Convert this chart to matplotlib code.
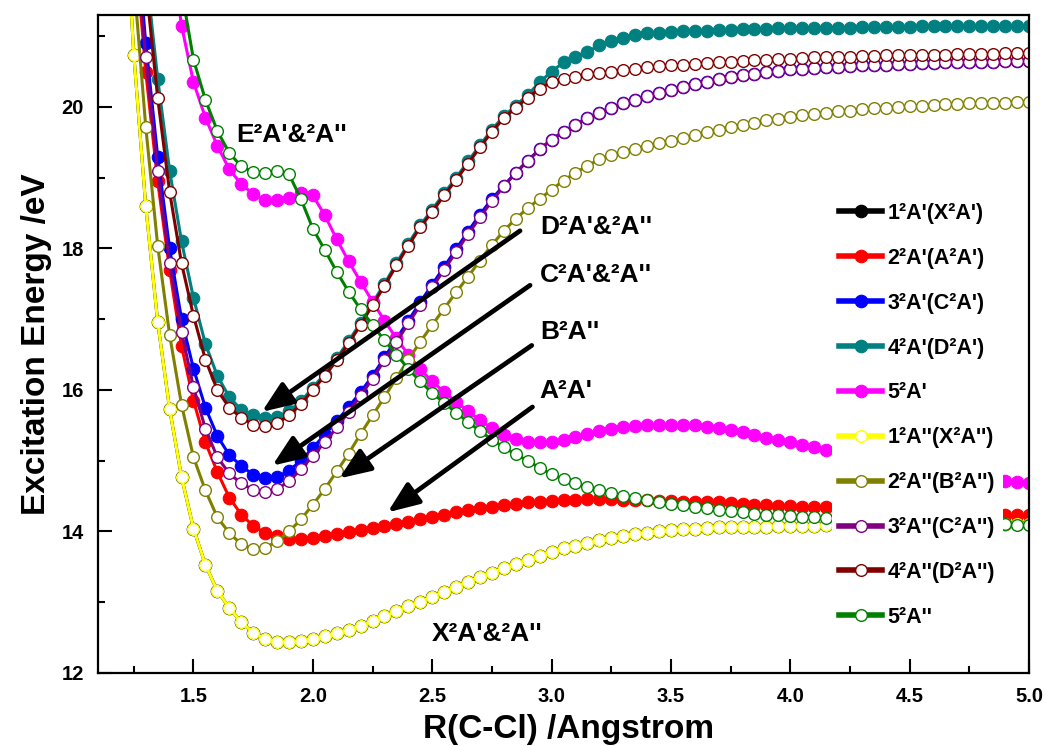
import matplotlib
matplotlib.use('Agg')
import matplotlib.pyplot as plt
from matplotlib.ticker import MultipleLocator

plt.rcParams['font.family'] = ['Liberation Sans', 'DejaVu Sans']
plt.rcParams['font.weight'] = 'bold'

# bond length grid (Angstrom)
r_cc = [1.20, 1.25, 1.30, 1.35, 1.40, 1.45, 1.50, 1.55, 1.60, 1.65,
        1.70, 1.75, 1.80, 1.85, 1.90, 1.95, 2.00, 2.05, 2.10, 2.15,
        2.20, 2.25, 2.30, 2.35, 2.40, 2.45, 2.50, 2.55, 2.60, 2.65,
        2.70, 2.75, 2.80, 2.85, 2.90, 2.95, 3.00, 3.05, 3.10, 3.15,
        3.20, 3.25, 3.30, 3.35, 3.40, 3.45, 3.50, 3.55, 3.60, 3.65,
        3.70, 3.75, 3.80, 3.85, 3.90, 3.95, 4.00, 4.05, 4.10, 4.15,
        4.20, 4.25, 4.30, 4.35, 4.40, 4.45, 4.50, 4.55, 4.60, 4.65,
        4.70, 4.75, 4.80, 4.85, 4.90, 4.95, 5.00]

# X state (1 2A' and 1 2A'' are degenerate)
e_x = [23.6, 20.74, 18.6, 16.96, 15.73, 14.77, 14.04, 13.53, 13.16, 12.92,
       12.72, 12.57, 12.48, 12.44, 12.44, 12.45, 12.48, 12.52, 12.56, 12.61,
       12.67, 12.73, 12.80, 12.87, 12.94, 13.01, 13.08, 13.15, 13.22, 13.29,
       13.36, 13.42, 13.48, 13.54, 13.60, 13.66, 13.71, 13.76, 13.80, 13.84,
       13.88, 13.91, 13.94, 13.96, 13.98, 14.00, 14.02, 14.03, 14.04, 14.05,
       14.06, 14.06, 14.07, 14.07, 14.07, 14.08, 14.08, 14.08, 14.08, 14.09,
       14.09, 14.09, 14.09, 14.09, 14.10, 14.10, 14.10, 14.10, 14.10, 14.10,
       14.10, 14.10, 14.10, 14.10, 14.10, 14.10, 14.10]

e_2a1 = [25.0, 22.5, 20.5, 18.95, 17.7, 16.62, 15.85, 15.26, 14.84, 14.48,
         14.24, 14.08, 13.98, 13.93, 13.90, 13.90, 13.91, 13.93, 13.96, 13.99,
         14.02, 14.05, 14.08, 14.11, 14.14, 14.17, 14.20, 14.24, 14.27, 14.30,
         14.33, 14.35, 14.37, 14.39, 14.41, 14.42, 14.43, 14.44, 14.45, 14.46,
         14.46, 14.46, 14.45, 14.45, 14.44, 14.43, 14.43, 14.42, 14.42, 14.41,
         14.41, 14.40, 14.39, 14.38, 14.37, 14.36, 14.36, 14.35, 14.34, 14.34,
         14.33, 14.32, 14.31, 14.30, 14.30, 14.29, 14.28, 14.28, 14.27, 14.27,
         14.26, 14.26, 14.25, 14.25, 14.24, 14.24, 14.24]

e_3a1 = [25.5, 22.9, 20.9, 19.3, 18.0, 17.0, 16.3, 15.75, 15.35, 15.08,
         14.93, 14.80, 14.75, 14.77, 14.86, 15.00, 15.18, 15.37, 15.56, 15.76,
         15.97, 16.20, 16.46, 16.72, 16.98, 17.24, 17.49, 17.74, 17.99, 18.24,
         18.48, 18.70, 18.89, 19.07, 19.24, 19.40, 19.54, 19.65, 19.75, 19.84,
         19.92, 19.99, 20.05, 20.10, 20.15, 20.20, 20.24, 20.28, 20.32, 20.36,
         20.39, 20.42, 20.45, 20.47, 20.49, 20.51, 20.53, 20.54, 20.55, 20.56,
         20.57, 20.58, 20.59, 20.60, 20.60, 20.61, 20.61, 20.62, 20.62, 20.63,
         20.63, 20.64, 20.64, 20.64, 20.65, 20.65, 20.65]

e_4a1 = [26.6, 24.1, 21.95, 20.4, 19.1, 18.1, 17.3, 16.65, 16.2, 15.9,
         15.72, 15.64, 15.60, 15.62, 15.70, 15.84, 16.03, 16.23, 16.45, 16.69,
         16.95, 17.23, 17.50, 17.79, 18.07, 18.33, 18.55, 18.78, 19.00, 19.23,
         19.46, 19.68, 19.87, 20.02, 20.17, 20.35, 20.50, 20.63, 20.71, 20.78,
         20.87, 20.93, 20.98, 21.02, 21.04, 21.05, 21.06, 21.07, 21.08, 21.08,
         21.09, 21.09, 21.10, 21.10, 21.10, 21.11, 21.11, 21.11, 21.12, 21.12,
         21.12, 21.12, 21.13, 21.13, 21.13, 21.13, 21.13, 21.14, 21.14, 21.14,
         21.14, 21.14, 21.14, 21.14, 21.14, 21.14, 21.14]

e_5a1 = [28.0, 26.5, 25.0, 23.7, 22.35, 21.15, 20.35, 19.85, 19.45, 19.12,
         18.91, 18.77, 18.69, 18.68, 18.71, 18.78, 18.75, 18.47, 18.13, 17.82,
         17.53, 17.25, 16.98, 16.73, 16.50, 16.29, 16.12, 15.97, 15.83, 15.70,
         15.57, 15.46, 15.37, 15.31, 15.27, 15.26, 15.27, 15.30, 15.34, 15.38,
         15.42, 15.45, 15.47, 15.49, 15.50, 15.51, 15.51, 15.51, 15.50, 15.48,
         15.46, 15.43, 15.40, 15.36, 15.32, 15.29, 15.26, 15.22, 15.19, 15.15,
         15.12, 15.09, 15.06, 15.03, 15.00, 14.97, 14.94, 14.91, 14.88, 14.86,
         14.83, 14.80, 14.77, 14.75, 14.72, 14.70, 14.68]

e_2a2 = [24.3, 21.8, 19.72, 18.04, 16.78, 15.79, 15.05, 14.58, 14.20, 13.98,
         13.82, 13.75, 13.77, 13.86, 14.00, 14.17, 14.38, 14.60, 14.85, 15.10,
         15.38, 15.64, 15.90, 16.17, 16.43, 16.68, 16.92, 17.15, 17.38, 17.60,
         17.83, 18.05, 18.25, 18.42, 18.57, 18.70, 18.83, 18.96, 19.07, 19.17,
         19.26, 19.32, 19.37, 19.41, 19.45, 19.49, 19.52, 19.56, 19.60, 19.64,
         19.68, 19.72, 19.75, 19.78, 19.81, 19.83, 19.86, 19.88, 19.90, 19.92,
         19.94, 19.95, 19.97, 19.98, 19.99, 20.00, 20.01, 20.02, 20.03, 20.04,
         20.04, 20.05, 20.05, 20.06, 20.06, 20.07, 20.07]

e_3a2 = [25.2, 22.6, 20.7, 19.09, 17.79, 16.82, 16.04, 15.45, 15.05, 14.82,
         14.68, 14.59, 14.56, 14.60, 14.71, 14.88, 15.07, 15.26, 15.47, 15.69,
         15.92, 16.16, 16.42, 16.68, 16.94, 17.20, 17.45, 17.70, 17.95, 18.20,
         18.44, 18.67, 18.88, 19.07, 19.24, 19.40, 19.54, 19.65, 19.75, 19.84,
         19.92, 19.99, 20.05, 20.10, 20.15, 20.20, 20.24, 20.28, 20.32, 20.36,
         20.39, 20.42, 20.45, 20.47, 20.49, 20.51, 20.53, 20.54, 20.55, 20.56,
         20.57, 20.58, 20.59, 20.60, 20.60, 20.61, 20.61, 20.62, 20.62, 20.63,
         20.63, 20.64, 20.64, 20.64, 20.65, 20.65, 20.65]

e_4a2 = [26.3, 23.8, 21.75, 20.13, 18.8, 17.79, 17.05, 16.43, 16.00, 15.75,
         15.61, 15.51, 15.49, 15.53, 15.64, 15.80, 16.00, 16.20, 16.42, 16.66,
         16.92, 17.20, 17.47, 17.76, 18.04, 18.30, 18.52, 18.75, 18.97, 19.20,
         19.43, 19.65, 19.84, 19.99, 20.13, 20.26, 20.35, 20.40, 20.43, 20.46,
         20.48, 20.50, 20.52, 20.54, 20.56, 20.58, 20.59, 20.60, 20.61, 20.62,
         20.63, 20.64, 20.65, 20.66, 20.67, 20.68, 20.68, 20.69, 20.70, 20.70,
         20.71, 20.71, 20.72, 20.72, 20.73, 20.73, 20.73, 20.74, 20.74, 20.74,
         20.75, 20.75, 20.75, 20.75, 20.76, 20.76, 20.76]

e_5a2 = [28.5, 27.0, 25.5, 24.1, 22.8, 21.65, 20.67, 20.10, 19.66, 19.35,
         19.16, 19.08, 19.07, 19.10, 19.05, 18.70, 18.28, 17.98, 17.67, 17.39,
         17.14, 16.92, 16.70, 16.50, 16.30, 16.12, 15.96, 15.82, 15.68, 15.55,
         15.42, 15.30, 15.19, 15.09, 15.00, 14.90, 14.81, 14.74, 14.68, 14.63,
         14.58, 14.54, 14.50, 14.47, 14.44, 14.41, 14.39, 14.37, 14.35, 14.33,
         14.31, 14.29, 14.27, 14.25, 14.24, 14.23, 14.22, 14.21, 14.20, 14.19,
         14.18, 14.17, 14.16, 14.16, 14.15, 14.14, 14.14, 14.13, 14.13, 14.12,
         14.12, 14.11, 14.11, 14.10, 14.10, 14.09, 14.09]

labels = ["1²A'(X²A')", "2²A'(A²A')", "3²A'(C²A')", "4²A'(D²A')", "5²A'",
          "1²A''(X²A'')", "2²A''(B²A'')", "3²A''(C²A'')", "4²A''(D²A'')", "5²A''"]
series = [e_x, e_2a1, e_3a1, e_4a1, e_5a1, e_x, e_2a2, e_3a2, e_4a2, e_5a2]
colors = ['#000000', '#FF0000', '#0000FF', '#008080', '#FF00FF',
          '#FFFF00', '#808000', '#800080', '#800000', '#008000']
filled = [True] * 5 + [False] * 5

# state labels: (text, R, E)
state_text = [("E²A'&²A''", 1.678, 19.60), ("D²A'&²A''", 2.952, 18.31),
              ("C²A'&²A''", 2.950, 17.62), ("B²A''", 2.952, 16.82),
              ("A²A'", 2.950, 15.99), ("X²A'&²A''", 2.497, 12.55)]
# arrows: (tail R, tail E, tip R, tip E)
arrows = [(2.868, 18.25, 1.786, 15.69), (2.910, 17.48, 1.830, 14.93),
          (2.917, 16.63, 2.110, 14.75), (2.920, 15.76, 2.313, 14.27)]

fig = plt.figure(figsize=(10.46, 7.46), dpi=100)
ax = fig.add_axes([98 / 1046, 73 / 746, 931 / 1046, 658 / 746])

for y, c, lab, f in zip(series, colors, labels, filled):
    if f:
        ax.plot(r_cc, y, '-o', color=c, lw=2.2, ms=9.0, mfc=c, mec=c,
                mew=0.8, label=lab)
    else:
        ax.plot(r_cc, y, '-o', color=c, lw=2.2, ms=8.4, mfc='white', mec=c,
                mew=1.0, label=lab)

for txt, r, e in state_text:
    ax.text(r, e, txt, fontsize=19, fontweight='bold', ha='left', va='center')

for r0, e0, r1, e1 in arrows:
    ax.annotate('', xy=(r1, e1), xytext=(r0, e0),
                arrowprops=dict(arrowstyle='-|>,head_length=0.5,head_width=0.2',
                                lw=3.4, color='black', mutation_scale=38,
                                shrinkA=0, shrinkB=0))

ax.set_xlim(1.1, 5.0)
ax.set_ylim(12, 21.3)
ax.xaxis.set_major_locator(MultipleLocator(0.5))
ax.xaxis.set_minor_locator(MultipleLocator(0.25))
ax.yaxis.set_major_locator(MultipleLocator(2))
ax.yaxis.set_minor_locator(MultipleLocator(1))
ax.tick_params(which='major', direction='in', length=10, width=1.5,
               labelsize=14.5, pad=10, top=False, right=False)
ax.tick_params(which='minor', direction='in', length=5, width=1.5,
               top=False, right=False)
for lab in ax.get_xticklabels() + ax.get_yticklabels():
    lab.set_fontweight('bold')
for sp in ax.spines.values():
    sp.set_linewidth(1.6)

ax.set_xlabel('R(C-Cl) /Angstrom', fontsize=24, fontweight='bold')
ax.set_ylabel('Excitation Energy /eV', fontsize=24, fontweight='bold')
ax.xaxis.set_label_coords(0.505, -0.063)
ax.yaxis.set_label_coords(-0.049, 0.5)

leg = ax.legend(loc='upper left', bbox_to_anchor=(0.788, 0.726), fontsize=15.5,
                frameon=True, facecolor='white', edgecolor='none', framealpha=1,
                fancybox=False, handlelength=2.0, handletextpad=0.25,
                labelspacing=1.11, borderpad=0.35, borderaxespad=0)
for h in leg.legend_handles:
    h.set_linewidth(4)
for t in leg.get_texts():
    t.set_fontweight('bold')

fig.savefig('out.png', dpi=100)
